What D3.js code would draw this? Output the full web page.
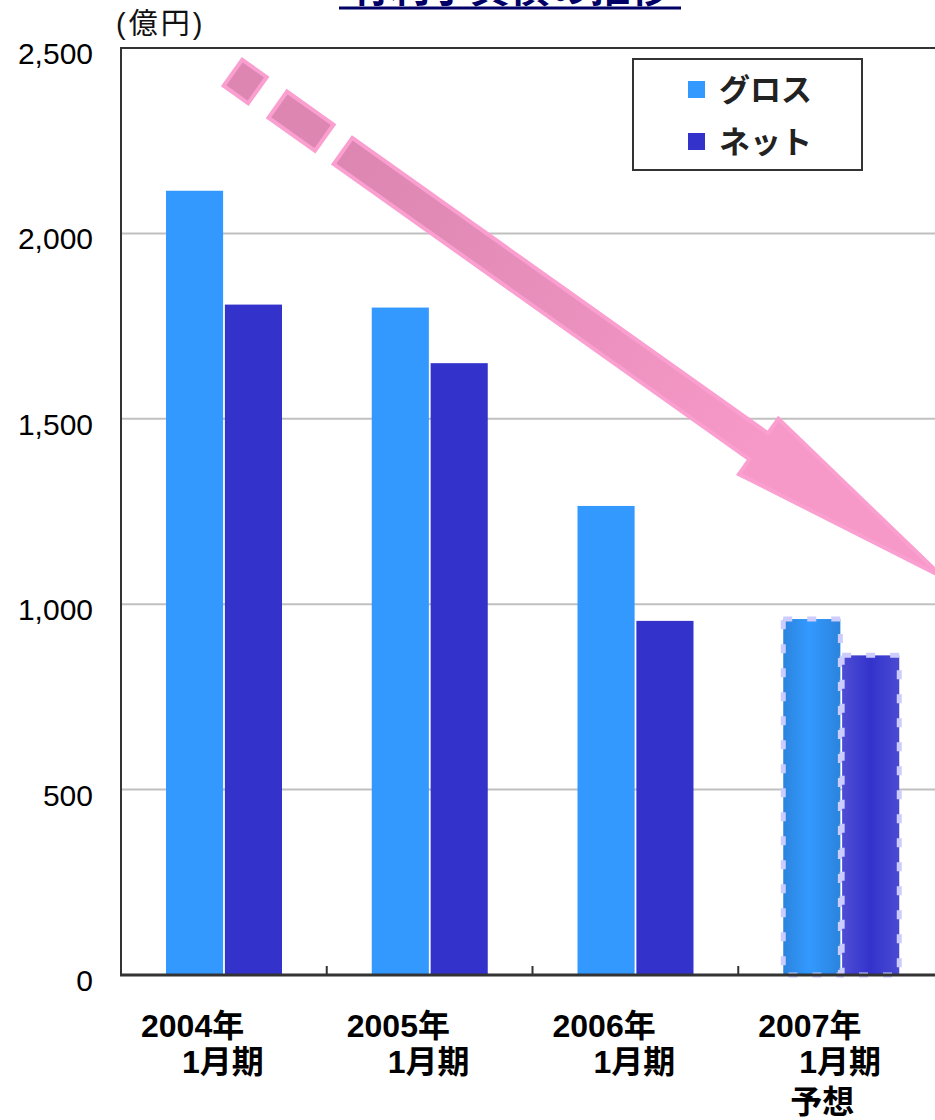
<html lang="ja">
  <head>
    <meta charset="utf-8">
    <script src="https://d3js.org/d3.v7.js"></script>
    <style>
      body { margin: 0; background: #fff; }
      text { font-family: "Liberation Sans", Arial, "Noto Sans CJK JP", sans-serif; }
    </style>
  </head>
  <body>
    <svg id="chart" width="935" height="1120"></svg>
    <script>
      // data
      var categories = ["2004年1月期", "2005年1月期", "2006年1月期", "2007年1月期予想"];
      var labelLines = [["2004年", "1月期"], ["2005年", "1月期"], ["2006年", "1月期"], ["2007年", "1月期", "予想"]];
      var gross = [2115, 1800, 1265, 960];
      var net = [1808, 1650, 955, 862];
      var yTicks = [0, 500, 1000, 1500, 2000, 2500];
      var seriesNames = ["グロス", "ネット"];
      var seriesColors = ["#3399ff", "#3333cc"];

      var svg = d3.select("svg#chart");
      var defs = svg.append("defs");

      var plotLeft = 121, plotTop = 48, plotBottom = 975, plotRight = 944;

      var xScale = d3.scaleBand()
        .domain(categories)
        .range([plotLeft, plotRight]);

      var xSub = d3.scaleBand()
        .domain(seriesNames)
        .range([45, 161])
        .paddingInner(0.03);

      var yScale = d3.scaleLinear()
        .domain([0, 2500])
        .range([plotBottom, plotTop]);

      // title (mostly cut off at top of the picture)
      svg.append("text")
        .attr("x", 510).attr("y", 2)
        .attr("text-anchor", "middle")
        .attr("font-family", "'Noto Sans CJK JP'")
        .attr("font-weight", "bold")
        .attr("font-size", 40)
        .attr("fill", "#000066")
        .text("有利子負債の推移");
      svg.append("line")
        .attr("x1", 339).attr("x2", 681)
        .attr("y1", 8).attr("y2", 8)
        .attr("stroke", "#000066").attr("stroke-width", 3);

      svg.append("text")
        .attr("x", 116).attr("y", 34)
        .attr("font-family", "'Noto Sans CJK JP'")
        .attr("font-size", 29)
        .attr("letter-spacing", 3)
        .attr("fill", "#111")
        .text("(億円)");

      // grid lines
      svg.append("g")
        .selectAll("line")
        .data(yTicks.filter(d => d > 0 && d < 2500))
        .enter()
        .append("line")
        .attr("x1", plotLeft).attr("x2", 935)
        .attr("y1", d => yScale(d)).attr("y2", d => yScale(d))
        .attr("stroke", "#c0c0c0").attr("stroke-width", 2);

      // frame
      svg.append("path")
        .attr("d", `M${plotLeft},${plotBottom} V${plotTop} H935`)
        .attr("fill", "none").attr("stroke", "#333").attr("stroke-width", 2);

      // y labels
      svg.append("g")
        .selectAll("text")
        .data(yTicks)
        .enter()
        .append("text")
        .attr("x", 93)
        .attr("y", d => yScale(d) + 16)
        .attr("text-anchor", "end")
        .attr("font-size", 30)
        .attr("fill", "#000")
        .text(d => d3.format(",")(d));

      // gradients for the forecast bars
      var gGross = defs.append("linearGradient").attr("id", "gradGross");
      gGross.append("stop").attr("offset", "0%").attr("stop-color", "#2b84dd");
      gGross.append("stop").attr("offset", "45%").attr("stop-color", "#3399ff");
      gGross.append("stop").attr("offset", "100%").attr("stop-color", "#2b84dd");
      var gNet = defs.append("linearGradient").attr("id", "gradNet");
      gNet.append("stop").attr("offset", "0%").attr("stop-color", "#4d4dd4");
      gNet.append("stop").attr("offset", "50%").attr("stop-color", "#3333cc");
      gNet.append("stop").attr("offset", "100%").attr("stop-color", "#4a4ad2");

      var rows = categories.map((c, i) => ({cat: c, values: [gross[i], net[i]], forecast: i === 3}));

      // downward arrow
      var gArrow = defs.append("linearGradient")
        .attr("id", "gradArrow")
        .attr("gradientUnits", "userSpaceOnUse")
        .attr("x1", 0).attr("x2", 520).attr("y1", 0).attr("y2", 0);
      gArrow.append("stop").attr("offset", "0%").attr("stop-color", "#dc86b1");
      gArrow.append("stop").attr("offset", "100%").attr("stop-color", "#f799c8");

      var arrow = svg.append("g")
        .attr("transform", "translate(343,151) rotate(35.4)");
      arrow.selectAll("rect")
        .data([[-135, 30], [-80, 57]])
        .enter()
        .append("rect")
        .attr("x", d => d[0]).attr("width", d => d[1])
        .attr("y", -16).attr("height", 32)
        .attr("fill", "#dc86b1")
        .attr("stroke", "#fa9fcf").attr("stroke-width", 4);
      arrow.append("path")
        .attr("d", "M0,-16 L510,-16 L510,-34 L735,0 L510,34 L510,16 L0,16 Z")
        .attr("fill", "url(#gradArrow)")
        .attr("stroke", "#fa9fcf").attr("stroke-width", 4)
        .attr("stroke-linejoin", "miter");

      var groups = svg.append("g")
        .selectAll("g")
        .data(rows)
        .enter()
        .append("g")
        .attr("transform", d => `translate(${xScale(d.cat)},0)`);

      groups.selectAll("rect")
        .data(d => d.values.map((v, j) => ({name: seriesNames[j], value: v, j: j, forecast: d.forecast})))
        .enter()
        .append("rect")
        .attr("x", d => xSub(d.name))
        .attr("width", xSub.bandwidth())
        .attr("y", d => yScale(d.value))
        .attr("height", d => plotBottom - yScale(d.value))
        .attr("fill", d => d.forecast ? (d.j === 0 ? "url(#gradGross)" : "url(#gradNet)") : seriesColors[d.j])
        .attr("stroke", d => d.forecast ? "#ccccff" : "none")
        .attr("stroke-width", 5)
        .attr("stroke-dasharray", "9,15");

      // x axis
      svg.append("line")
        .attr("x1", plotLeft - 1).attr("x2", 935)
        .attr("y1", plotBottom).attr("y2", plotBottom)
        .attr("stroke", "#333").attr("stroke-width", 3);
      svg.append("g")
        .selectAll("line")
        .data(categories.slice(1))
        .enter()
        .append("line")
        .attr("x1", d => xScale(d)).attr("x2", d => xScale(d))
        .attr("y1", plotBottom - 9).attr("y2", plotBottom)
        .attr("stroke", "#333").attr("stroke-width", 2);

      // x labels
      var lineOffsets = [20, 61, 52];
      var lineYs = [1037, 1073, 1113];
      svg.append("g")
        .selectAll("g")
        .data(categories)
        .enter()
        .append("g")
        .each(function(c, i) {
          d3.select(this).selectAll("text")
            .data(labelLines[i])
            .enter()
            .append("text")
            .attr("x", (d, k) => xScale(c) + lineOffsets[k])
            .attr("y", (d, k) => lineYs[k])
            .attr("font-weight", "bold")
            .attr("font-size", 32)
            .attr("fill", "#000")
            .text(d => d);
        });

      // legend
      var legend = svg.append("g");
      legend.append("rect")
        .attr("x", 633).attr("y", 59).attr("width", 229).attr("height", 111)
        .attr("fill", "#fff").attr("stroke", "#333").attr("stroke-width", 2);
      var items = legend.selectAll("g.item")
        .data(seriesNames)
        .enter()
        .append("g")
        .attr("transform", (d, i) => `translate(688,${81 + i * 52})`);
      items.append("rect")
        .attr("width", 17).attr("height", 17)
        .attr("fill", (d, i) => seriesColors[i]);
      items.append("text")
        .attr("x", 31).attr("y", 20)
        .attr("font-family", "'Noto Sans CJK JP'")
        .attr("font-weight", "bold")
        .attr("font-size", 31)
        .attr("fill", "#222")
        .text(d => d);
    </script>
  </body>
</html>
